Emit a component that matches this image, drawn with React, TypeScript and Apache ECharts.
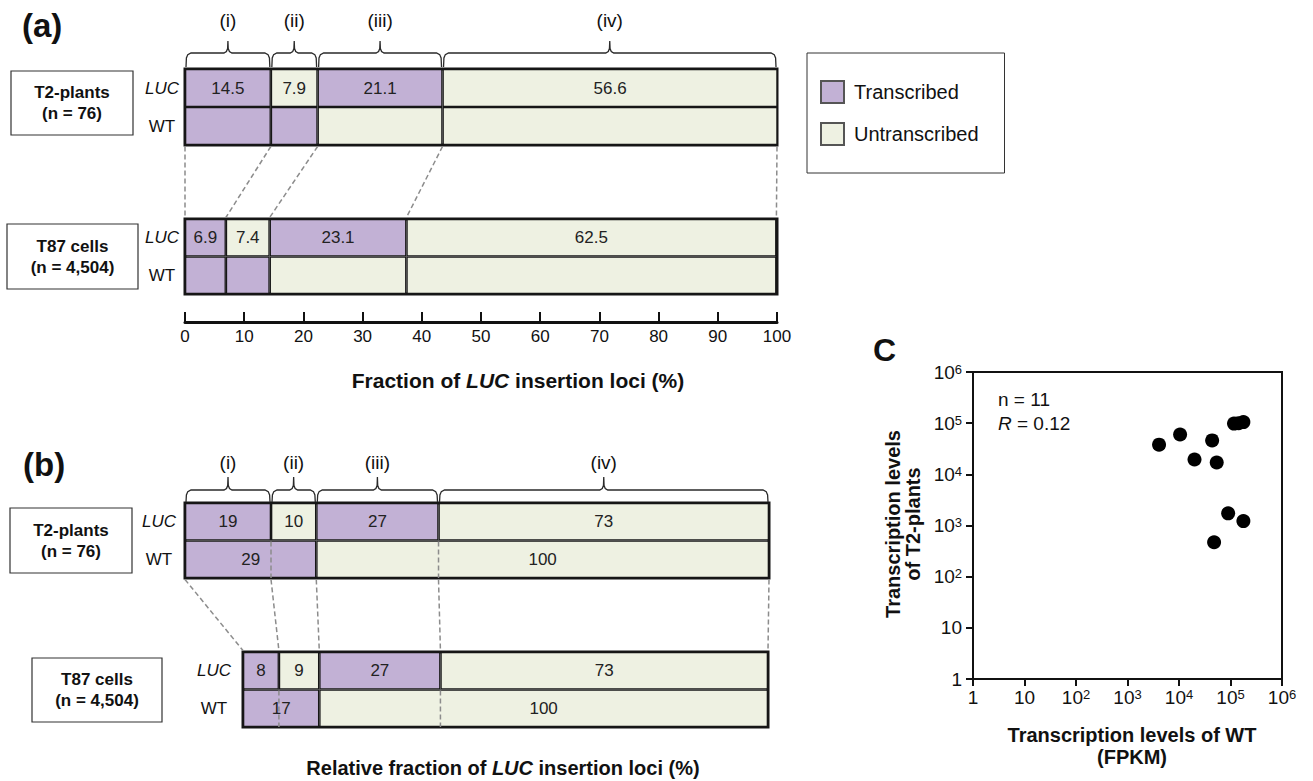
import React, { useEffect, useRef } from "react";
import * as echarts from "echarts";

const FONT = "'Liberation Sans', Arial, Helvetica, sans-serif";
const PURPLE = "#c2b1d5";
const GREEN = "#eef1e2";
const INK = "#111111";
const EDGE = "#161616";
const DASH = "#8c8c8c";

// ---------------- data ----------------
const rowCategories = ["LUC", "WT"];
const regionLabels = ["(i)", "(ii)", "(iii)", "(iv)"];
const legendNames = ["Transcribed", "Untranscribed"];

// (a) fraction of LUC insertion loci (%) ; status 1 = transcribed, 0 = untranscribed
const aT2LucValues = [14.5, 7.9, 21.1, 56.6];
const aT2LucStatus = [1, 0, 1, 0];
const aT2WtValues = [14.5, 7.9, 21.1, 56.6];
const aT2WtStatus = [1, 1, 0, 0];
const aT87LucValues = [6.9, 7.4, 23.1, 62.5];
const aT87LucStatus = [1, 0, 1, 0];
const aT87WtValues = [6.9, 7.4, 23.1, 62.5];
const aT87WtStatus = [1, 1, 0, 0];
const aAxisMin = 0;
const aAxisMax = 100;
const aAxisInterval = 10;

// (b) relative fraction (counts)
const bT2LucValues = [19, 10, 27, 73];
const bT2LucStatus = [1, 0, 1, 0];
const bT2WtValues = [29, 100];
const bT2WtStatus = [1, 0];
const bT87LucValues = [8, 9, 27, 73];
const bT87LucStatus = [1, 0, 1, 0];
const bT87WtValues = [17, 100];
const bT87WtStatus = [1, 0];

// C scatter
const wtFpkm = [4100, 10500, 20000, 44000, 54000, 117000, 144000, 178000, 90000, 178000, 48000];
const t2Levels = [38000, 60000, 19500, 46000, 17000, 98000, 100000, 105000, 1730, 1220, 470];
const logMin = 1;
const logMax = 1000000;

// ---------------- layout ----------------
const G_A_TOP = { left: 185, top: 69, width: 592, height: 76 };
const G_A_BOT = { left: 185, top: 219, width: 592, height: 75 };
const G_B_TOP = { left: 185, top: 503, width: 584, height: 75 };
const G_B_BOT = { left: 243, top: 652, width: 525, height: 75 };
const G_C = { left: 973, top: 372, width: 309, height: 307 };

const sum = (a: number[]) => a.reduce((s, v) => s + v, 0);
const cum = (a: number[]) => {
  const out = [0];
  a.forEach((v) => out.push(out[out.length - 1] + v));
  return out;
};

function stackSeries(
  idx: number,
  lucV: number[],
  lucS: number[],
  wtV: number[],
  wtS: number[],
  wtLabels: boolean
) {
  const n = Math.max(lucV.length, wtV.length);
  const item = (v: number | undefined, s: number, show: boolean) =>
    v === undefined
      ? "-"
      : { value: v, itemStyle: { color: s ? PURPLE : GREEN }, label: { show } };
  return Array.from({ length: n }, (_, k) => ({
    type: "bar",
    xAxisIndex: idx,
    yAxisIndex: idx,
    stack: "stack" + idx,
    barCategoryGap: "0%",
    silent: true,
    itemStyle: { borderColor: EDGE, borderWidth: 1.3 },
    label: {
      show: true,
      position: "inside",
      fontFamily: FONT,
      fontSize: 17,
      color: "#222",
    },
    data: [item(lucV[k], lucS[k], true), item(wtV[k], wtS[k], wtLabels)],
  }));
}

function rowAxis(gridIndex: number, margin: number) {
  return {
    type: "category",
    gridIndex,
    data: rowCategories,
    inverse: true,
    axisLine: { show: false },
    axisTick: { show: false },
    axisLabel: {
      margin,
      align: "center",
      fontFamily: FONT,
      fontSize: 17,
      color: INK,
      formatter: (v: string) => (v === "LUC" ? "{i|LUC}" : v),
      rich: { i: { fontStyle: "italic", fontFamily: FONT, fontSize: 17, color: INK } },
    },
  };
}

function logLabel(v: number) {
  const e = Math.round(Math.log10(v));
  if (e === 0) return "1";
  if (e === 1) return "10";
  return "10{s|" + e + "}";
}

function logAxis(gridIndex: number, isX: boolean) {
  return {
    type: "log",
    logBase: 10,
    gridIndex,
    min: logMin,
    max: logMax,
    axisLine: { show: true, lineStyle: { color: INK, width: 2 } },
    axisTick: { show: true, length: 7, lineStyle: { color: INK, width: 2 } },
    minorTick: { show: false },
    splitLine: { show: false },
    axisLabel: {
      fontFamily: FONT,
      fontSize: 19,
      color: INK,
      margin: isX ? 9 : 11,
      formatter: logLabel,
      rich: { s: { fontFamily: FONT, fontSize: 13, color: INK, verticalAlign: "top" } },
    },
  };
}

const barGrid = (g: any) => ({ ...g, containLabel: false, show: true, borderColor: EDGE, borderWidth: 3 });

function buildOption() {
  const series: any[] = [
    ...stackSeries(0, aT2LucValues, aT2LucStatus, aT2WtValues, aT2WtStatus, false),
    ...stackSeries(1, aT87LucValues, aT87LucStatus, aT87WtValues, aT87WtStatus, false),
    ...stackSeries(2, bT2LucValues, bT2LucStatus, bT2WtValues, bT2WtStatus, true),
    ...stackSeries(3, bT87LucValues, bT87LucStatus, bT87WtValues, bT87WtStatus, true),
    {
      type: "scatter",
      xAxisIndex: 4,
      yAxisIndex: 4,
      symbolSize: 14,
      itemStyle: { color: "#000", opacity: 1 },
      silent: true,
      data: wtFpkm.map((x, i) => [x, t2Levels[i]]),
    },
    {
      type: "bar",
      name: legendNames[0],
      xAxisIndex: 0,
      yAxisIndex: 0,
      stack: "stack0",
      data: [],
      itemStyle: { color: PURPLE, borderColor: "#555", borderWidth: 1 },
    },
    {
      type: "bar",
      name: legendNames[1],
      xAxisIndex: 0,
      yAxisIndex: 0,
      stack: "stack0",
      data: [],
      itemStyle: { color: GREEN, borderColor: "#555", borderWidth: 1 },
    },
  ];

  return {
    animation: false,
    backgroundColor: "#ffffff",
    textStyle: { fontFamily: FONT },
    grid: [
      barGrid(G_A_TOP),
      barGrid(G_A_BOT),
      barGrid(G_B_TOP),
      barGrid(G_B_BOT),
      { ...G_C, containLabel: false, show: true, borderColor: INK, borderWidth: 2 },
    ],
    legend: {
      left: 807,
      top: 53,
      orient: "vertical",
      icon: "rect",
      itemWidth: 23,
      itemHeight: 22,
      itemGap: 18,
      padding: [27, 26, 27, 13],
      borderColor: "#333",
      borderWidth: 1,
      selectedMode: false,
      data: legendNames,
      textStyle: { fontFamily: FONT, fontSize: 20, color: INK, padding: [0, 0, 0, 5] },
    },
    xAxis: [
      { type: "value", gridIndex: 0, min: aAxisMin, max: aAxisMax, show: false },
      {
        type: "value",
        gridIndex: 1,
        min: aAxisMin,
        max: aAxisMax,
        interval: aAxisInterval,
        position: "bottom",
        offset: 28,
        axisLine: { show: true, onZero: false, lineStyle: { color: INK, width: 3 } },
        axisTick: { show: true, inside: true, length: 10, lineStyle: { color: INK, width: 2 } },
        axisLabel: { fontFamily: FONT, fontSize: 17, color: INK, margin: 6 },
        splitLine: { show: false },
      },
      { type: "value", gridIndex: 2, min: 0, max: sum(bT2LucValues), show: false },
      { type: "value", gridIndex: 3, min: 0, max: sum(bT87LucValues), show: false },
      logAxis(4, true),
    ],
    yAxis: [rowAxis(0, 23), rowAxis(1, 23), rowAxis(2, 26), rowAxis(3, 29), logAxis(4, false)],
    series,
  };
}

function bracePoints(x0: number, x1: number, yLine: number, yEnd: number, yTip: number) {
  const xm = (x0 + x1) / 2;
  return [
    [x0, yEnd],
    [x0 + 0.4, yLine + 5],
    [x0 + 1.8, yLine + 1.6],
    [x0 + 5, yLine],
    [xm - 4, yLine],
    [xm - 1.5, yLine - 1.4],
    [xm - 0.3, yLine - 4.5],
    [xm, yTip],
    [xm + 0.3, yLine - 4.5],
    [xm + 1.5, yLine - 1.4],
    [xm + 4, yLine],
    [x1 - 5, yLine],
    [x1 - 1.8, yLine + 1.6],
    [x1 - 0.4, yLine + 5],
    [x1, yEnd],
  ];
}

function buildGraphics(chart: any) {
  const px = (axis: number, v: number) => chart.convertToPixel({ xAxisIndex: axis }, v) as number;
  const els: any[] = [];
  const txt = (x: number, y: number, text: string, o: any = {}) => ({
    type: "text",
    x,
    y,
    silent: true,
    z: 60,
    rotation: o.rotation || 0,
    style: {
      text,
      fontFamily: FONT,
      fontSize: o.fontSize || 17,
      fontWeight: o.fontWeight || "normal",
      fill: INK,
      align: o.align || "center",
      verticalAlign: "middle",
      lineHeight: o.lineHeight,
      rich: o.rich,
    },
  });
  const dash = (x1: number, y1: number, x2: number, y2: number) => ({
    type: "line",
    silent: true,
    z: 50,
    shape: { x1, y1, x2, y2 },
    style: { stroke: DASH, lineWidth: 1.5, lineDash: [5, 3] },
  });

  // braces and region labels
  const braces = (axis: number, vals: number[], max: number, yLabel: number, yLine: number, yEnd: number, yTip: number) => {
    const b = cum(vals).map((v) => Math.min(v, max));
    for (let k = 0; k < vals.length; k++) {
      const x0 = px(axis, b[k]) + 1;
      const x1 = px(axis, b[k + 1]) - 1;
      els.push({
        type: "polyline",
        silent: true,
        z: 55,
        shape: { points: bracePoints(x0, x1, yLine, yEnd, yTip) },
        style: { stroke: "#2a2a2a", lineWidth: 1.3, fill: null },
      });
      els.push(txt((x0 + x1) / 2, yLabel, regionLabels[k], { fontSize: 19 }));
    }
  };
  braces(0, aT2LucValues, aAxisMax, 20, 53, 67, 41);
  braces(2, bT2LucValues, sum(bT2LucValues), 462, 490, 502, 477);

  // dashed connectors
  const r = (v: number) => Math.round(v * 1000) / 1000;
  const connectors = (
    ta: number, ba: number,
    tl: number[], tw: number[], bl: number[], bw: number[],
    gt: any, gb: any, maxT: number, maxB: number
  ) => {
    const tc = cum(tl).map((v) => r(Math.min(v, maxT)));
    const bc = cum(bl).map((v) => r(Math.min(v, maxB)));
    const tws = cum(tw).map((v) => r(Math.min(v, maxT)));
    const bws = cum(bw).map((v) => r(Math.min(v, maxB)));
    for (let k = 0; k < tc.length; k++) {
      const xt = px(ta, tc[k]);
      const xb = px(ba, bc[k]);
      els.push(dash(xt, gt.top + gt.height + 1.5, xb, gb.top - 1.5));
      if (!tws.includes(tc[k])) els.push(dash(xt, gt.top + gt.height / 2 + 1, xt, gt.top + gt.height));
      if (!bws.includes(bc[k])) els.push(dash(xb, gb.top + gb.height / 2 + 1, xb, gb.top + gb.height));
    }
  };
  connectors(0, 1, aT2LucValues, aT2WtValues, aT87LucValues, aT87WtValues, G_A_TOP, G_A_BOT, aAxisMax, aAxisMax);
  connectors(2, 3, bT2LucValues, bT2WtValues, bT87LucValues, bT87WtValues, G_B_TOP, G_B_BOT, sum(bT2LucValues), sum(bT87LucValues));

  // group label boxes
  const box = (x: number, y: number, w: number, h: number, text: string) => {
    els.push({
      type: "rect",
      silent: true,
      z: 40,
      shape: { x, y, width: w, height: h },
      style: { fill: "#fff", stroke: "#333", lineWidth: 1.2 },
    });
    els.push(txt(x + w / 2, y + h / 2, text, { fontSize: 17, fontWeight: "bold", lineHeight: 21 }));
  };
  box(11, 71, 122, 64, "T2-plants\n(n = 76)");
  box(7, 224, 131, 65, "T87 cells\n(n = 4,504)");
  box(10, 508, 122, 65, "T2-plants\n(n = 76)");
  box(32, 658, 130, 64, "T87 cells\n(n = 4,504)");

  // panel letters
  els.push(txt(22, 25, "(a)", { fontSize: 33, fontWeight: "bold", align: "left" }));
  els.push(txt(23, 464, "(b)", { fontSize: 33, fontWeight: "bold", align: "left" }));
  els.push(txt(873, 350, "C", { fontSize: 32, fontWeight: "bold", align: "left" }));

  // axis titles
  const italicBold = { i: { fontStyle: "italic", fontWeight: "bold", fontFamily: FONT, fontSize: 21, fill: INK } };
  els.push(txt(518, 380, "Fraction of {i|LUC} insertion loci (%)", { fontSize: 21, fontWeight: "bold", rich: italicBold }));
  els.push(
    txt(503, 768, "Relative fraction of {i|LUC} insertion loci (%)", {
      fontSize: 20,
      fontWeight: "bold",
      rich: { i: { ...italicBold.i, fontSize: 20 } },
    })
  );
  els.push(
    txt(903, 524, "Transcription levels\nof T2-plants", {
      fontSize: 20,
      fontWeight: "bold",
      lineHeight: 20,
      rotation: Math.PI / 2,
    })
  );
  els.push(txt(1132, 746, "Transcription levels of WT\n(FPKM)", { fontSize: 20, fontWeight: "bold", lineHeight: 22 }));

  // stats
  els.push(txt(998, 399, "n = 11", { fontSize: 19, align: "left" }));
  els.push(
    txt(998, 423, "{i|R} = 0.12", {
      fontSize: 19,
      align: "left",
      rich: { i: { fontStyle: "italic", fontFamily: FONT, fontSize: 19, fill: INK } },
    })
  );

  return els;
}

export default function App() {
  const ref = useRef<HTMLDivElement>(null);
  useEffect(() => {
    if (!ref.current) return;
    const chart = echarts.init(ref.current, null, { renderer: "svg" });
    chart.setOption(buildOption() as any);
    chart.setOption({ graphic: { elements: buildGraphics(chart) } } as any);
    return () => chart.dispose();
  }, []);
  return (
    <div
      ref={ref}
      style={{ position: "absolute", left: 0, top: 0, width: 1313, height: 781, background: "#fff" }}
    />
  );
}
